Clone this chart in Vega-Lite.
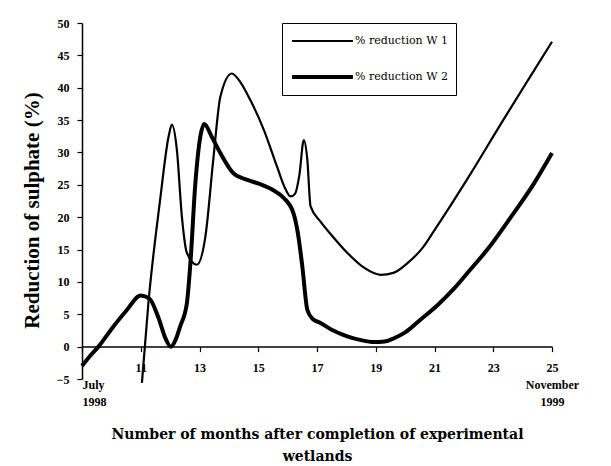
{
  "$schema": "https://vega.github.io/schema/vega-lite/v6.json",
  "width": 470,
  "height": 356,
  "autosize": {"type": "none"},
  "padding": {"left": 82, "top": 23, "right": 59, "bottom": 87},
  "background": "white",
  "config": {"view": {"stroke": null}, "font": "Liberation Serif"},
  "data": {
    "values": [
      {"series": "% reduction W 2", "month": 9.0, "reduction": -3.0},
      {"series": "% reduction W 2", "month": 9.3, "reduction": -1.3},
      {"series": "% reduction W 2", "month": 9.56, "reduction": 0.0},
      {"series": "% reduction W 2", "month": 10.0, "reduction": 2.7},
      {"series": "% reduction W 2", "month": 10.5, "reduction": 5.5},
      {"series": "% reduction W 2", "month": 11.0, "reduction": 7.9},
      {"series": "% reduction W 2", "month": 11.3, "reduction": 7.4},
      {"series": "% reduction W 2", "month": 11.6, "reduction": 4.5},
      {"series": "% reduction W 2", "month": 11.85, "reduction": 1.2},
      {"series": "% reduction W 2", "month": 12.02, "reduction": 0.0},
      {"series": "% reduction W 2", "month": 12.2, "reduction": 1.2},
      {"series": "% reduction W 2", "month": 12.34, "reduction": 3.1},
      {"series": "% reduction W 2", "month": 12.57, "reduction": 6.7},
      {"series": "% reduction W 2", "month": 12.69, "reduction": 12.9},
      {"series": "% reduction W 2", "month": 12.86, "reduction": 25.3},
      {"series": "% reduction W 2", "month": 13.03, "reduction": 32.5},
      {"series": "% reduction W 2", "month": 13.16, "reduction": 34.4},
      {"series": "% reduction W 2", "month": 13.43, "reduction": 32.3},
      {"series": "% reduction W 2", "month": 13.71, "reduction": 29.9},
      {"series": "% reduction W 2", "month": 14.15, "reduction": 26.8},
      {"series": "% reduction W 2", "month": 14.6, "reduction": 25.8},
      {"series": "% reduction W 2", "month": 15.07, "reduction": 25.1},
      {"series": "% reduction W 2", "month": 15.5, "reduction": 24.2},
      {"series": "% reduction W 2", "month": 15.86, "reduction": 23.0},
      {"series": "% reduction W 2", "month": 16.2, "reduction": 20.6},
      {"series": "% reduction W 2", "month": 16.35, "reduction": 17.5},
      {"series": "% reduction W 2", "month": 16.5, "reduction": 12.4},
      {"series": "% reduction W 2", "month": 16.67, "reduction": 5.7},
      {"series": "% reduction W 2", "month": 16.85, "reduction": 4.3},
      {"series": "% reduction W 2", "month": 17.12, "reduction": 3.66},
      {"series": "% reduction W 2", "month": 17.5, "reduction": 2.6},
      {"series": "% reduction W 2", "month": 18.03, "reduction": 1.6},
      {"series": "% reduction W 2", "month": 18.5, "reduction": 1.0},
      {"series": "% reduction W 2", "month": 18.94, "reduction": 0.7},
      {"series": "% reduction W 2", "month": 19.3, "reduction": 0.8},
      {"series": "% reduction W 2", "month": 19.62, "reduction": 1.3},
      {"series": "% reduction W 2", "month": 20.0, "reduction": 2.2},
      {"series": "% reduction W 2", "month": 20.53, "reduction": 4.2},
      {"series": "% reduction W 2", "month": 21.1, "reduction": 6.4},
      {"series": "% reduction W 2", "month": 21.67, "reduction": 9.0},
      {"series": "% reduction W 2", "month": 22.2, "reduction": 11.8},
      {"series": "% reduction W 2", "month": 22.8, "reduction": 15.0},
      {"series": "% reduction W 2", "month": 23.6, "reduction": 20.0},
      {"series": "% reduction W 2", "month": 24.4, "reduction": 25.3},
      {"series": "% reduction W 2", "month": 25.0, "reduction": 29.9},
      {"series": "% reduction W 1", "month": 11.04, "reduction": -5.6},
      {"series": "% reduction W 1", "month": 11.26, "reduction": 6.7},
      {"series": "% reduction W 1", "month": 11.66, "reduction": 22.7},
      {"series": "% reduction W 1", "month": 11.95, "reduction": 32.5},
      {"series": "% reduction W 1", "month": 12.06, "reduction": 34.3},
      {"series": "% reduction W 1", "month": 12.23, "reduction": 30.4},
      {"series": "% reduction W 1", "month": 12.4, "reduction": 20.1},
      {"series": "% reduction W 1", "month": 12.57, "reduction": 14.5},
      {"series": "% reduction W 1", "month": 12.91, "reduction": 12.65},
      {"series": "% reduction W 1", "month": 13.2, "reduction": 17.0},
      {"series": "% reduction W 1", "month": 13.48, "reduction": 29.4},
      {"series": "% reduction W 1", "month": 13.71, "reduction": 38.6},
      {"series": "% reduction W 1", "month": 14.1, "reduction": 42.2},
      {"series": "% reduction W 1", "month": 14.4, "reduction": 40.8},
      {"series": "% reduction W 1", "month": 14.73, "reduction": 38.1},
      {"series": "% reduction W 1", "month": 15.19, "reduction": 33.5},
      {"series": "% reduction W 1", "month": 15.64, "reduction": 27.8},
      {"series": "% reduction W 1", "month": 15.9, "reduction": 24.6},
      {"series": "% reduction W 1", "month": 16.1, "reduction": 23.2},
      {"series": "% reduction W 1", "month": 16.25, "reduction": 23.6},
      {"series": "% reduction W 1", "month": 16.4, "reduction": 26.5},
      {"series": "% reduction W 1", "month": 16.55, "reduction": 31.9},
      {"series": "% reduction W 1", "month": 16.67, "reduction": 28.9},
      {"series": "% reduction W 1", "month": 16.78, "reduction": 21.7},
      {"series": "% reduction W 1", "month": 17.12, "reduction": 19.3},
      {"series": "% reduction W 1", "month": 17.5, "reduction": 17.2},
      {"series": "% reduction W 1", "month": 18.03, "reduction": 14.5},
      {"series": "% reduction W 1", "month": 18.6, "reduction": 12.2},
      {"series": "% reduction W 1", "month": 19.17, "reduction": 11.1},
      {"series": "% reduction W 1", "month": 19.6, "reduction": 11.4},
      {"series": "% reduction W 1", "month": 20.08, "reduction": 12.9},
      {"series": "% reduction W 1", "month": 20.6, "reduction": 15.3},
      {"series": "% reduction W 1", "month": 21.0, "reduction": 18.0},
      {"series": "% reduction W 1", "month": 22.2, "reduction": 26.5},
      {"series": "% reduction W 1", "month": 23.27, "reduction": 34.5},
      {"series": "% reduction W 1", "month": 24.2, "reduction": 41.3},
      {"series": "% reduction W 1", "month": 25.0, "reduction": 47.1}
    ]
  },
  "mark": {"type": "line", "interpolate": "monotone", "color": "black", "clip": false},
  "encoding": {
    "x": {
      "field": "month",
      "type": "quantitative",
      "scale": {"domain": [9, 25], "nice": false, "zero": false},
      "axis": {
        "values": [9, 11, 13, 15, 17, 19, 21, 23, 25],
        "offset": -32.4,
        "grid": false,
        "domainColor": "black",
        "domainWidth": 1.5,
        "tickColor": "black",
        "tickSize": 5,
        "tickWidth": 1.2,
        "labelFont": "Liberation Serif",
        "labelFontWeight": "bold",
        "labelFontSize": 12,
        "labelColor": "black",
        "labelPadding": 11,
        "labelOverlap": false,
        "labelLineHeight": 17,
        "labelExpr": "datum.value == 9 ? ['', 'July', '1998'] : datum.value == 25 ? ['25', 'November', '1999'] : datum.label",
        "labelAlign": {"condition": {"test": "datum.value == 9", "value": "left"}, "value": "center"},
        "title": ["Number of months after completion of experimental", "wetlands"],
        "titleFont": "DejaVu Serif",
        "titleFontSize": 14,
        "titleFontWeight": "bold",
        "titleColor": "black",
        "titleLineHeight": 22,
        "titlePadding": 20
      }
    },
    "y": {
      "field": "reduction",
      "type": "quantitative",
      "scale": {"domain": [-5, 50], "nice": false, "zero": false},
      "axis": {
        "values": [-5, 0, 5, 10, 15, 20, 25, 30, 35, 40, 45, 50],
        "grid": false,
        "domainColor": "black",
        "domainWidth": 1.5,
        "tickColor": "black",
        "tickSize": 5,
        "tickWidth": 1.2,
        "labelFont": "Liberation Serif",
        "labelFontWeight": "bold",
        "labelFontSize": 12,
        "labelColor": "black",
        "labelPadding": 8,
        "title": "Reduction of sulphate (%)",
        "titleFont": "Liberation Serif",
        "titleFontSize": 21,
        "titleFontWeight": "bold",
        "titleColor": "black",
        "titlePadding": 14,
        "titleY": 187
      }
    },
    "strokeWidth": {
      "field": "series",
      "type": "ordinal",
      "scale": {"domain": ["% reduction W 1", "% reduction W 2"], "range": [2.2, 4]},
      "legend": {
        "title": null,
        "orient": "none",
        "legendX": 200,
        "legendY": 0,
        "symbolType": "stroke",
        "symbolSize": 3700,
        "symbolStrokeColor": "black",
        "clipHeight": 20,
        "rowPadding": 16,
        "labelOffset": 0,
        "padding": 8,
        "strokeColor": "black",
        "fillColor": "white",
        "labelFont": "DejaVu Serif",
        "labelFontSize": 11,
        "labelColor": "black"
      }
    }
  }
}
